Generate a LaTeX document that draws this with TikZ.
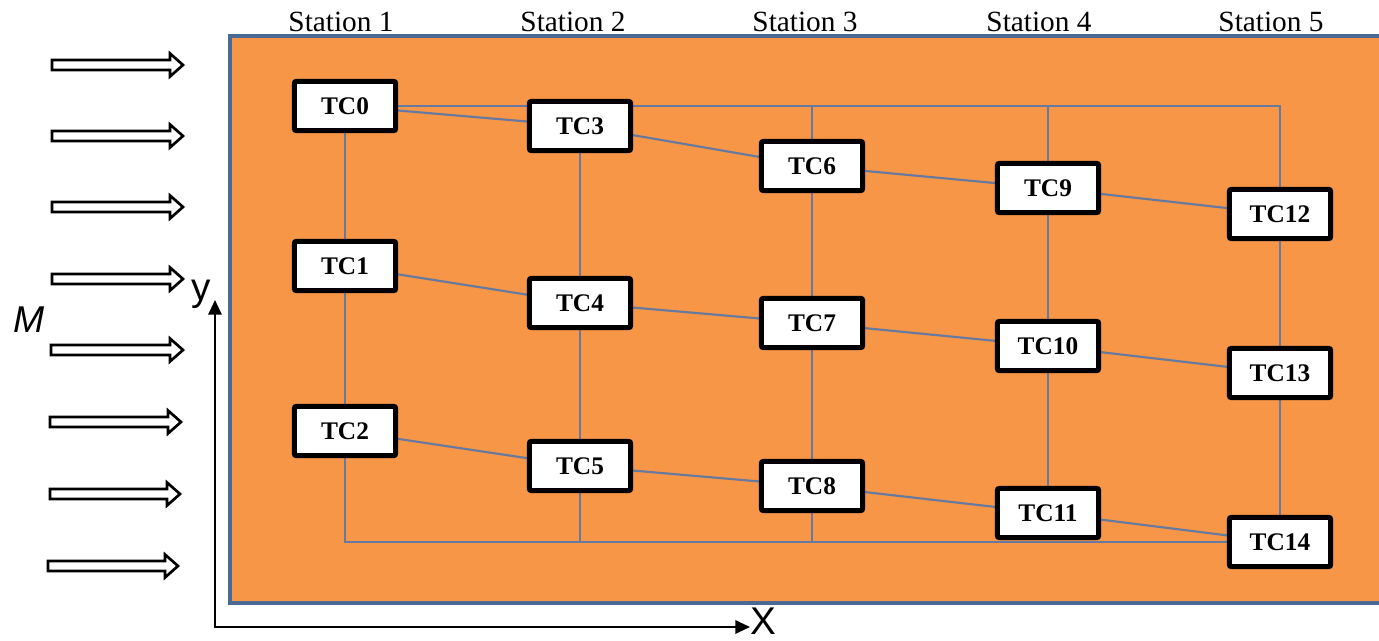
\documentclass[tikz,border=0pt]{standalone}
\usepackage{fontspec}
\setmainfont{Liberation Serif}
\setsansfont{Liberation Sans}
\usetikzlibrary{arrows.meta,backgrounds}
\definecolor{boardorange}{HTML}{F79646}
\definecolor{boardedge}{HTML}{4A6A94}
\definecolor{wire}{HTML}{6679A0}
\begin{document}
\begin{tikzpicture}[x=0.75pt,y=-0.75pt,
  tc/.style={draw=black, line width=3.7pt, fill=white, rounded corners=1.5pt,
    minimum width=76pt, minimum height=37pt, inner sep=0pt,
    font=\fontsize{19}{19}\selectfont\bfseries},
  station/.style={anchor=base, inner sep=0pt, font=\fontsize{22}{22}\selectfont},
  wireline/.style={draw=wire, line width=1.6pt},
  flowarrow/.style={draw=black, line width=2pt, fill=white, line join=miter},
  axis/.style={draw=black, line width=1.5pt},
  axlabel/.style={font=\sffamily\fontsize{29}{29}\selectfont, inner sep=0pt}]
\useasboundingbox (0,0) rectangle (1379,641);

% stations
\node[station] (s1) at (341,32) {Station 1};
\node[station] (s2) at (573,32) {Station 2};
\node[station] (s3) at (805,32) {Station 3};
\node[station] (s4) at (1039,32) {Station 4};
\node[station] (s5) at (1271,32) {Station 5};

% thermocouples
\node[tc] (TC0) at (345,106) {TC0};
\node[tc] (TC1) at (345,266) {TC1};
\node[tc] (TC2) at (345,431) {TC2};
\node[tc] (TC3) at (580,126) {TC3};
\node[tc] (TC4) at (580,303) {TC4};
\node[tc] (TC5) at (580,466) {TC5};
\node[tc] (TC6) at (812,166) {TC6};
\node[tc] (TC7) at (812,323) {TC7};
\node[tc] (TC8) at (812,486) {TC8};
\node[tc] (TC9) at (1048,188) {TC9};
\node[tc] (TC10) at (1048,346) {TC10};
\node[tc] (TC11) at (1048,513) {TC11};
\node[tc] (TC12) at (1280,214) {TC12};
\node[tc] (TC13) at (1280,373) {TC13};
\node[tc] (TC14) at (1280,542) {TC14};

\begin{scope}[on background layer]
  \fill[boardorange] (230,36) rectangle (1385,603);
  \draw[boardedge, line width=3pt] (1385,36) -- (230,36) -- (230,603) -- (1385,603);
  % diagonals
  \draw[wireline] (TC0) -- (TC3) (TC3) -- (TC6) (TC6) -- (TC9) (TC9) -- (TC12);
  \draw[wireline] (TC1) -- (TC4) (TC4) -- (TC7) (TC7) -- (TC10) (TC10) -- (TC13);
  \draw[wireline] (TC2) -- (TC5) (TC5) -- (TC8) (TC8) -- (TC11) (TC11) -- (TC14);
  % columns
  \draw[wireline] (TC0) -- (TC1) (TC1) -- (TC2);
  \draw[wireline] (TC3) -- (TC4) (TC4) -- (TC5);
  \draw[wireline] (TC6) -- (TC7) (TC7) -- (TC8);
  \draw[wireline] (TC9) -- (TC10) (TC10) -- (TC11);
  \draw[wireline] (TC12) -- (TC13) (TC13) -- (TC14);
  % top rail
  \draw[wireline] (TC0.east) -| (TC12.north);
  \draw[wireline] (TC6.north) -- (TC6.north |- TC0.east);
  \draw[wireline] (TC9.north) -- (TC9.north |- TC0.east);
  % bottom rail
  \draw[wireline] (TC2.south) |- (TC14.west);
  \draw[wireline] (TC5.south) -- (TC5.south |- TC14.west);
  \draw[wireline] (TC8.south) -- (TC8.south |- TC14.west);
\end{scope}

% flow arrows
\foreach \yy/\lx/\tx in {65/52/183, 136/52/183, 207/52/183, 279/52/183,
                         350/51/183, 422/50/181, 494/50/180, 566/48/178}
  \draw[flowarrow] (\lx,\yy-5) -- (\tx-13,\yy-5) -- (\tx-13,\yy-11.5) -- (\tx,\yy)
     -- (\tx-13,\yy+11.5) -- (\tx-13,\yy+5) -- (\lx,\yy+5) -- cycle;

\node[font=\sffamily\itshape\fontsize{28}{28}\selectfont, inner sep=0pt] (mlab) at (29,320) {M};

% axes
\coordinate (O) at (215,627);
\coordinate (ytip) at (215,300);
\coordinate (xtip) at (750,627);
\draw[axis, {Triangle[length=11pt,width=10pt]}-{Triangle[length=11pt,width=10pt]}] (ytip) -- (O) -- (xtip);
\node[axlabel] (ylab) at (201,294) {y};
\node[axlabel] (xlab) at (763,621) {X};
\end{tikzpicture}
\end{document}
